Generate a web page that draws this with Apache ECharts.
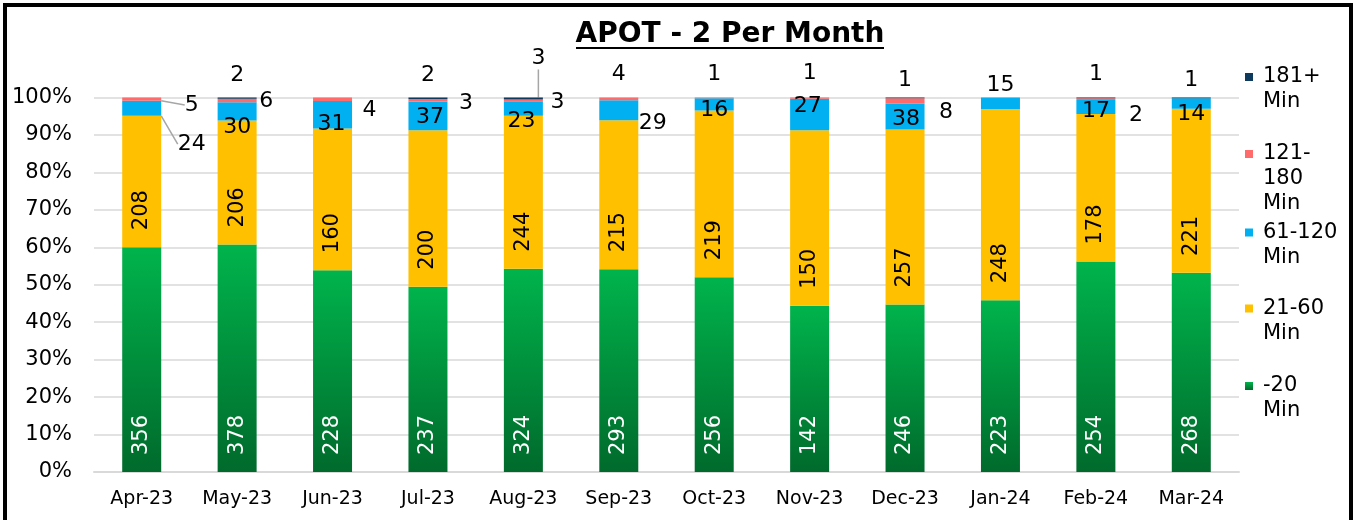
<!DOCTYPE html>
<html>
<head>
<meta charset="utf-8">
<title>APOT - 2 Per Month</title>
<script src="https://cdn.jsdelivr.net/npm/echarts@6/dist/echarts.min.js"></script>
<style>
  html, body { margin: 0; padding: 0; background: #fff; }
  #wrap { position: relative; width: 1353px; height: 520px; overflow: hidden; background: #fff; }
  #chart { position: absolute; left: 0; top: 0; width: 1353px; height: 520px; }
  #frame { position: absolute; left: 3px; top: 3px; width: 1350px; height: 600px; box-sizing: border-box;
           border: 4px solid #000; pointer-events: none; }
</style>
</head>
<body>
<div id="wrap">
  <div id="chart"></div>
  <div id="frame"></div>
</div>
<script>
var months = ['Apr-23', 'May-23', 'Jun-23', 'Jul-23', 'Aug-23', 'Sep-23',
              'Oct-23', 'Nov-23', 'Dec-23', 'Jan-24', 'Feb-24', 'Mar-24'];

// counts per wait band
var under20   = [356, 378, 228, 237, 324, 293, 256, 142, 246, 223, 254, 268];
var min21to60 = [208, 206, 160, 200, 244, 215, 219, 150, 257, 248, 178, 221];
var min61to120 = [24, 30, 31, 37, 23, 29, 16, 27, 38, 15, 17, 14];
var min121to180 = [5, 6, 4, 3, 3, 4, 1, 1, 8, 0, 2, 0];
var min181plus  = [0, 2, 0, 2, 3, 0, 0, 0, 1, 0, 1, 1];

var yTicks = [0, 10, 20, 30, 40, 50, 60, 70, 80, 90, 100];

(function() {
  var FONT = 'DejaVu Sans';
  var chart = echarts.init(document.getElementById('chart'), null, { renderer: 'canvas' });

  var totals = months.map(function(m, i) {
    return under20[i] + min21to60[i] + min61to120[i] + min121to180[i] + min181plus[i];
  });

  function share(arr) {
    return arr.map(function(v, i) { return v / totals[i] * 100; });
  }

  // hand-placed labels (Excel moved them around), offset from segment centre
  var blueShift = [[50, 36], [0, 16], [-1, 10], [2, 1.5], [-2, 13], [34, 13],
                   [0, 6], [-2, -8], [1, 3], [0, -18], [0, 4], [0, 11]];
  var redShift = [[50, 6], [29, 1], [37, 11], [38, 3], [34, 2], [0, -25],
                  [0, -24], [0, -25], [41, 11], null, [40, 16], null];
  var navyShift = [null, [0, -23], null, [0, -23], [15, -40], null,
                   null, null, [0, -18], null, [0, -24], [0, -18]];

  var green = new echarts.graphic.LinearGradient(0, 0, 0, 1, [
    { offset: 0, color: '#00b44c' },
    { offset: 1, color: '#006a2c' }
  ]);

  function makeSeries(name, counts, color, opts) {
    var lines = opts.lines || [];
    return {
      name: name,
      type: 'bar',
      stack: 'all',
      barWidth: 39,
      itemStyle: { color: color },
      data: share(counts).map(function(p, i) {
        var item = { value: p };
        if (lines.indexOf(i) >= 0) {
          item.labelLine = { show: true, lineStyle: { color: '#a6a6a6', width: 1.5 } };
        }
        return item;
      }),
      label: {
        show: true,
        position: 'inside',
        rotate: opts.rotated ? 90 : 0,
        align: 'center',
        verticalAlign: 'middle',
        color: opts.labelColor || '#000',
        textBorderWidth: 0,
        fontFamily: FONT,
        fontSize: opts.rotated ? 21 : 22,
        formatter: function(p) {
          var c = counts[p.dataIndex];
          return c ? String(c) : '';
        }
      },
      labelLine: { show: false },
      labelLayout: function(p) {
        var r = p.rect;
        var cx = r.x + r.width / 2;
        if (opts.rotated) {
          return { x: cx, y: r.y + r.height - 37 };
        }
        var s = opts.shifts[p.dataIndex] || [0, 0];
        return { x: cx + s[0], y: r.y + r.height / 2 + s[1] };
      }
    };
  }

  // blank lines in front keep the square level with the first text line
  function legendAt(name, top, nLines) {
    var lead = new Array(nLines).join('\n');
    return {
      data: [name],
      orient: 'vertical',
      left: 1245,
      top: top,
      padding: 0,
      itemWidth: 8,
      itemHeight: 8,
      icon: 'rect',
      selectedMode: false,
      formatter: function(n) { return lead + n; },
      textStyle: {
        fontFamily: FONT,
        fontSize: 21,
        lineHeight: 25,
        color: '#000',
        padding: [0, 0, 0, 5]
      }
    };
  }

  var option = {
    animation: false,
    backgroundColor: '#fff',
    title: {
      text: 'APOT - 2 Per Month',
      left: 730,
      top: 35,
      padding: 0,
      textAlign: 'center',
      textVerticalAlign: 'middle',
      textStyle: { fontFamily: FONT, fontSize: 28, fontWeight: 'bold', color: '#000' }
    },
    graphic: [{
      type: 'rect',
      left: 576,
      top: 47,
      shape: { width: 308, height: 2 },
      style: { fill: '#000' }
    }],
    legend: [
      legendAt('181+\nMin', 39.5, 2),
      legendAt('121-\n180\nMin', 91.5, 3),
      legendAt('61-120\nMin', 195, 2),
      legendAt('21-60\nMin', 271, 2),
      legendAt('-20\nMin', 348.5, 2)
    ],
    grid: {
      left: 94,
      right: 114,
      top: 97.5,
      bottom: 48,
      containLabel: false,
      outerBoundsMode: 'none'
    },
    xAxis: {
      type: 'category',
      data: months,
      axisTick: { show: false },
      axisLine: { lineStyle: { color: '#d9d9d9', width: 2 } },
      axisLabel: { fontFamily: FONT, fontSize: 19, color: '#000', margin: 18 }
    },
    yAxis: {
      type: 'value',
      min: yTicks[0],
      max: yTicks[yTicks.length - 1],
      interval: yTicks[1] - yTicks[0],
      axisLine: { show: false },
      axisTick: { show: false },
      splitLine: { lineStyle: { color: '#d9d9d9', width: 1.5 } },
      axisLabel: { fontFamily: FONT, fontSize: 21, color: '#000', margin: 22, formatter: '{value}%' }
    },
    series: [
      makeSeries('-20\nMin', under20, green, { rotated: true, labelColor: '#fff' }),
      makeSeries('21-60\nMin', min21to60, '#ffc000', { rotated: true }),
      makeSeries('61-120\nMin', min61to120, '#00b0f0', { shifts: blueShift, lines: [0] }),
      makeSeries('121-\n180\nMin', min121to180, '#ff6b6b', { shifts: redShift, lines: [0] }),
      makeSeries('181+\nMin', min181plus, '#0e3a5e', { shifts: navyShift, lines: [4] })
    ]
  };

  chart.setOption(option);
  window.addEventListener('resize', function() { chart.resize(); });
})();
</script>
</body>
</html>
